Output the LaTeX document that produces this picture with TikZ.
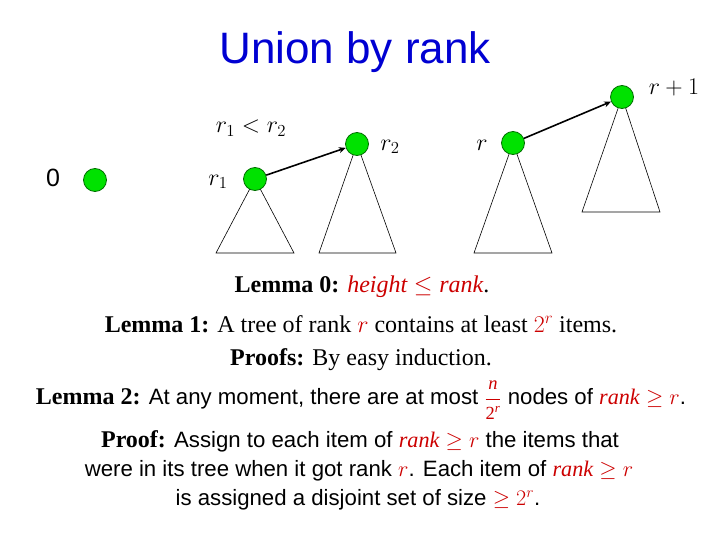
\RequirePackage{fix-cm}
\documentclass[tikz,border=0pt]{standalone}
\usepackage{fontspec}
\setmainfont{Liberation Serif}
\newfontfamily\arial{Liberation Sans}
\usetikzlibrary{arrows.meta}
\definecolor{ttlblue}{RGB}{0,0,210}
\definecolor{lred}{RGB}{204,0,0}
\definecolor{ngreen}{RGB}{0,226,0}
\definecolor{ndark}{RGB}{0,110,0}
\tikzset{
  vert/.style={circle,draw=ndark,fill=ngreen,line width=0.8pt,minimum size=23pt,inner sep=0pt},
  tri/.style={draw=black,line width=0.6pt},
  lbl/.style={inner sep=0pt,font=\fontsize{24}{28}\selectfont},
  link/.style={draw=black,line width=1.6pt,-{Stealth[length=7pt,width=6pt]}},
  serifline/.style={inner sep=0pt,font=\fontsize{24}{28}\selectfont},
  sansline/.style={inner sep=0pt,font=\arial\fontsize{22.2}{27}\selectfont},
}
\newcommand{\rd}[1]{\textcolor{lred}{#1}}
\newcommand{\blab}[1]{{\rmfamily\bfseries\fontsize{24}{28}\selectfont #1}}
\newcommand{\smallm}[1]{\mbox{\rmfamily\fontsize{18.5}{18.5}\selectfont #1}}
\begin{document}
\begin{tikzpicture}[x=1pt,y=-1pt]
\useasboundingbox (0,0) rectangle (720,540);
\node[inner sep=0pt,font=\arial\fontsize{44}{50}\selectfont,text=ttlblue] (title) at (355,52) {Union by rank};
% triangles
\coordinate (a1) at (255,179); \coordinate (a1l) at (216,253); \coordinate (a1r) at (294,253);
\coordinate (a2) at (357,144); \coordinate (a2l) at (319,253); \coordinate (a2r) at (396,253);
\coordinate (a3) at (513,143); \coordinate (a3l) at (474,253); \coordinate (a3r) at (552,253);
\coordinate (a4) at (622,97);  \coordinate (a4l) at (582,212); \coordinate (a4r) at (660,212);
\draw[tri] (a1) -- (a1l) -- (a1r) -- cycle;
\draw[tri] (a2) -- (a2l) -- (a2r) -- cycle;
\draw[tri] (a3) -- (a3l) -- (a3r) -- cycle;
\draw[tri] (a4) -- (a4l) -- (a4r) -- cycle;
% vertices
\node[vert] (n0) at (95,180) {};
\node[vert] (n1) at (a1) {};
\node[vert] (n2) at (a2) {};
\node[vert] (n3) at (a3) {};
\node[vert] (n4) at (a4) {};
% labels
\node[lbl,font=\arial\fontsize{25}{30}\selectfont] (l0) at (53,178) {0};
\node[lbl] (l1) at (218,182) {$r_1$};
\node[lbl] (lc) at (251,128) {$r_1<r_2$};
\node[lbl] (l2) at (390,147) {$r_2$};
\node[lbl] (l3) at (482,145) {$r$};
\node[lbl] (l4) at (674,88) {$r+1$};
% links
\draw[link] (n1) -- (n2);
\draw[link] (n3) -- (n4);
% text
\node[serifline] (t0) at (362,287) {\textbf{Lemma 0:} \rd{$\mathit{height}\le\mathit{rank}$}.};
\node[serifline] (t1) at (361,324) {\textbf{Lemma 1:} A tree of rank \rd{$r$} contains at least \rd{$2^r$} items.};
\node[serifline] (t2) at (361,360) {\textbf{Proofs:} By easy induction.};
\node[sansline] (t3) at (361,400) {\blab{Lemma 2:} At any moment, there are at most \rd{$\displaystyle\frac{\smallm{\itshape n}}{\smallm{2\textsuperscript{\itshape r}}}$} nodes of \rd{$\mathit{rank}\ge r$}.};
\node[sansline] (t4) at (360,441) {\blab{Proof:} Assign to each item of \rd{$\mathit{rank}\ge r$} the items that};
\node[sansline] (t5) at (359,471) {were in its tree when it got rank \rd{$r$}. Each item of \rd{$\mathit{rank}\ge r$}};
\node[sansline] (t6) at (358,500) {is assigned a disjoint set of size \rd{$\ge 2^r$}.};
\end{tikzpicture}
\end{document}
